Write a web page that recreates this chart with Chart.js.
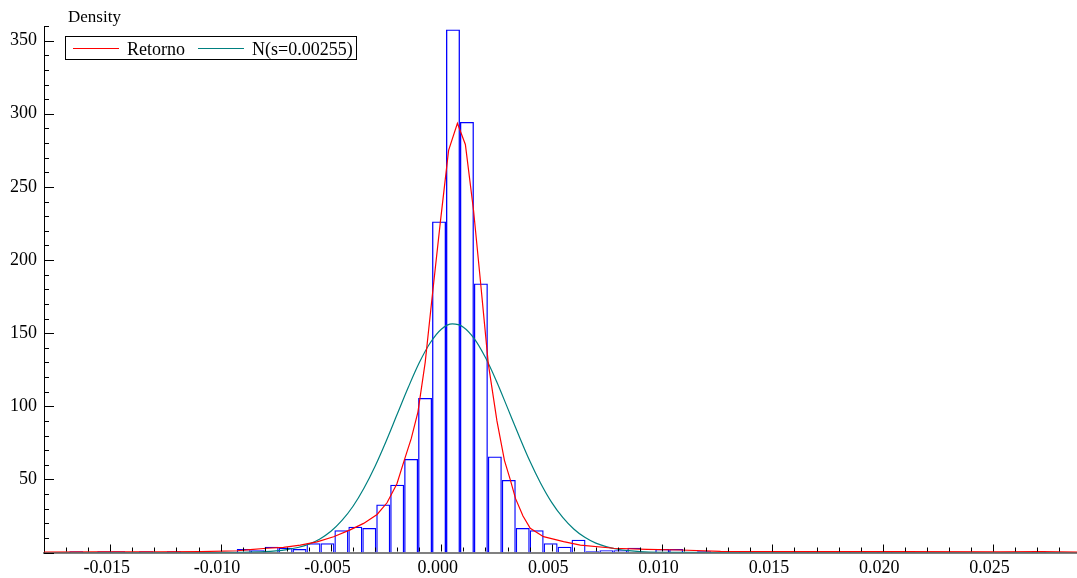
<!DOCTYPE html>
<html>
<head>
<meta charset="utf-8">
<script src="https://cdn.jsdelivr.net/npm/chart.js@4.4.1/dist/chart.umd.min.js"></script>
<style>
  html, body { margin: 0; padding: 0; background: #fff; }
  #wrap { position: relative; width: 1077px; height: 578px; }
</style>
</head>
<body>
<div id="wrap"><canvas id="densityChart" width="1077" height="578"></canvas></div>
<script>
// histogram: first bin edge, bin width, density of each bin
const binStart = -0.016851;
const binWidth = 0.000632;
const histDensity = [
  0.8, 0, 0.8, 0.8, 0, 0.8, 0, 0.8, 0, 0, 0, 0,
  2.4, 1.6, 4.0, 3.2, 2.4, 6.4, 6.4, 15.2, 17.6, 16.8, 32.8, 46.4, 64.0, 105.6, 226.4,
  357.6, 294.4, 184.0, 65.6, 49.6, 16.8, 15.2, 6.4, 4.0, 8.8, 0.8, 1.6, 1.6, 3.2,
  0, 2.4, 2.4, 0, 0.8, 0, 0, 0.8, 0, 0, 0, 0.8, 0, 0, 0.8, 0, 0.8, 0.8,
  0, 0, 0, 0, 0, 0, 0, 0, 0, 0, 0.8, 0, 0
];

// kernel density "Retorno"
const kdeX = [-0.0180, -0.0155, -0.0127, -0.0109, -0.00925, -0.00866, -0.00790, -0.00715, -0.00639, -0.00563,
  -0.00488, -0.00413, -0.00352, -0.00291, -0.00246, -0.00201, -0.00168, -0.00136, -0.00106, -0.00073,
  -0.00042, -0.00005, 0.00033, 0.00073, 0.00109, 0.00146, 0.00177, 0.00213, 0.00252, 0.00286,
  0.00313, 0.00336, 0.00370, 0.00403, 0.00463, 0.00554, 0.00630, 0.00781, 0.00932, 0.01083,
  0.01265, 0.01627, 0.02081, 0.02534, 0.02715, 0.02880];
const kdeY = [0.3, 0.5, 0.5, 0.6, 1.2, 2.0, 2.9, 3.5, 5.0, 7.3,
  10.8, 15.5, 19.9, 26, 34, 47, 63, 78, 96, 130,
  174, 225, 275, 293.5, 279, 234, 186, 129, 90, 63,
  49.5, 37, 25, 16.5, 10.8, 7.4, 5.1, 2.9, 2.2, 1.7,
  0.8, 0.6, 0.6, 0.4, 0.7, 0.3];

// normal curve N(s=0.00255)
const normX = [-0.018, -0.012, -0.010, -0.009, -0.008, -0.0075, -0.007, -0.0065, -0.006, -0.0055,
  -0.005, -0.0045, -0.004, -0.0035, -0.003, -0.0025, -0.002, -0.0015, -0.001, -0.0005,
  0.000, 0.0005, 0.001, 0.0015, 0.002, 0.0025, 0.003, 0.0035, 0.004, 0.0045,
  0.005, 0.0055, 0.006, 0.0065, 0.007, 0.0075, 0.008, 0.0085, 0.009, 0.010,
  0.011, 0.013, 0.0288];
const normY = [0, 0, 0.03, 0.14, 0.56, 1.06, 1.93, 3.4, 5.7, 9.3,
  14.5, 21.9, 31.6, 44.1, 59.0, 76.1, 94.5, 112.8, 129.7, 143.4,
  152.7, 156.3, 154.1, 146.1, 133.3, 117.1, 98.9, 80.5, 62.9, 47.4,
  34.3, 24.0, 16.1, 10.4, 6.4, 3.85, 2.2, 1.23, 0.65, 0.17,
  0.04, 0, 0];

const serif = '"Liberation Serif", "Times New Roman", serif';

const histPoints = histDensity.map((v, i) => ({ x: binStart + binWidth * (i + 0.5), y: v }));
const kdePoints = kdeX.map((x, i) => ({ x: x, y: kdeY[i] }));
const normPoints = normX.map((x, i) => ({ x: x, y: normY[i] }));

// tick marks pointing into the plot, long ones at labelled values
const tickMarks = {
  id: 'tickMarks',
  afterDraw(chart) {
    const { ctx, chartArea } = chart;
    const xs = chart.scales.x, ys = chart.scales.y;
    ctx.save();
    ctx.strokeStyle = '#000';
    ctx.lineWidth = 1;
    ctx.beginPath();
    xs.ticks.forEach(t => {
      const px = Math.round(xs.getPixelForValue(t.value)) + 0.5;
      const r = t.value / 0.005;
      const major = Math.abs(r - Math.round(r)) < 1e-6;
      ctx.moveTo(px, chartArea.bottom - 1);
      ctx.lineTo(px, chartArea.bottom - (major ? 8 : 5));
    });
    ys.ticks.forEach(t => {
      const py = Math.round(ys.getPixelForValue(t.value)) + 0.5;
      const major = t.value % 50 === 0;
      ctx.moveTo(chartArea.left, py);
      ctx.lineTo(chartArea.left + (major ? 10 : 5), py);
    });
    ctx.stroke();
    ctx.fillStyle = '#000';
    ctx.font = '17px ' + serif;
    ctx.textBaseline = 'alphabetic';
    ctx.fillText('Density', 68, 22);
    ctx.restore();
  }
};

// boxed legend in the top-left corner of the plot
const boxLegend = {
  id: 'boxLegend',
  afterDraw(chart) {
    const ctx = chart.ctx;
    const items = chart.data.datasets.filter(d => d.type === 'line');
    const left = 65.5, top = 36.5, lineY = 48.5;
    let x = 73;
    ctx.save();
    ctx.font = '18px ' + serif;
    ctx.textBaseline = 'alphabetic';
    items.forEach(d => {
      ctx.strokeStyle = d.borderColor;
      ctx.lineWidth = 1;
      ctx.beginPath();
      ctx.moveTo(x, lineY);
      ctx.lineTo(x + 46, lineY);
      ctx.stroke();
      ctx.fillStyle = '#000';
      ctx.fillText(d.label, x + 54, 55);
      x += 54 + ctx.measureText(d.label).width + 13;
    });
    ctx.strokeStyle = '#000';
    ctx.lineWidth = 1;
    ctx.strokeRect(left, top, Math.round(x - 13 + 4 - left), 23);
    ctx.restore();
  }
};

new Chart(document.getElementById('densityChart'), {
  type: 'bar',
  data: {
    datasets: [
      {
        type: 'bar',
        label: 'Density',
        data: histPoints,
        backgroundColor: 'rgba(0,0,0,0)',
        borderColor: '#0000ff',
        borderWidth: 1.3,
        inflateAmount: 0,
        barPercentage: 1,
        categoryPercentage: 1,
        order: 3
      },
      {
        type: 'line',
        label: 'Retorno',
        data: kdePoints,
        borderColor: '#ff0000',
        borderWidth: 1.2,
        pointRadius: 0,
        tension: 0,
        order: 1
      },
      {
        type: 'line',
        label: 'N(s=0.00255)',
        data: normPoints,
        borderColor: '#008080',
        borderWidth: 1.2,
        pointRadius: 0,
        cubicInterpolationMode: 'monotone',
        order: 2
      }
    ]
  },
  options: {
    responsive: false,
    animation: false,
    layout: { padding: { top: 26, left: 0, right: 0, bottom: 0 } },
    plugins: {
      legend: { display: false },
      tooltip: { enabled: false }
    },
    scales: {
      x: {
        type: 'linear',
        min: -0.018,
        max: 0.0288,
        offset: false,
        grid: { display: false, drawTicks: false },
        border: { display: true, color: '#808080', width: 2 },
        ticks: {
          stepSize: 0.001,
          autoSkip: false,
          maxRotation: 0,
          minRotation: 0,
          includeBounds: false,
          padding: 5,
          labelOffset: -3.5,
          color: '#000',
          font: { family: serif, size: 18 },
          callback: v => {
            const r = v / 0.005;
            return Math.abs(r - Math.round(r)) < 1e-6 ? v.toFixed(3) : '';
          }
        },
        afterFit: s => { s.height = 25.5; }
      },
      y: {
        min: 0,
        max: 360,
        grid: { display: false, drawTicks: false },
        border: { display: true, color: '#000', width: 1 },
        ticks: {
          stepSize: 10,
          autoSkip: false,
          padding: 7,
          color: '#000',
          font: { family: serif, size: 18 },
          callback: v => (v > 0 && v % 50 === 0) ? String(v) : ''
        },
        afterFit: s => { s.width = 44; }
      }
    }
  },
  plugins: [tickMarks, boxLegend]
});
</script>
</body>
</html>
